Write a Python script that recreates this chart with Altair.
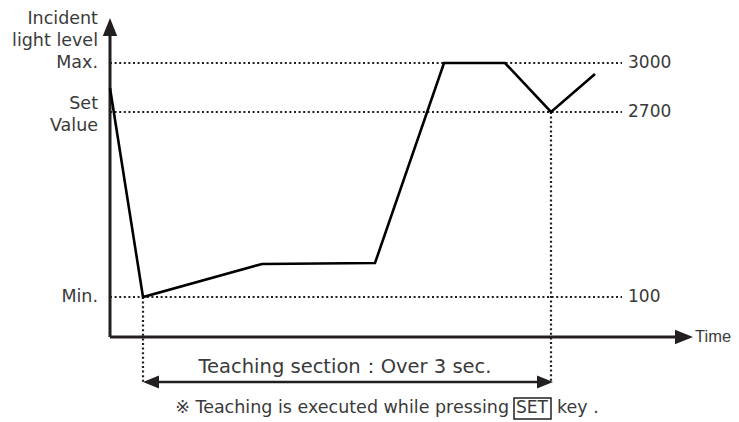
import altair as alt
import pandas as pd

# Schematic units: time = px right of the y-axis, level = px above the x-axis
line_time = [0, 33, 152, 265, 334, 395, 441, 485]
line_level = [249, 40, 73, 74, 274, 274, 225, 263]

ref_names = ["Max.", "Set Value", "Min."]
ref_levels = [274, 225, 40]
ref_values = ["3000", "2700", "100"]
ref_end = 512

vline_time = [33, 441]
vline_top = [40, 225]
vline_bottom = -46

left_labels = ["Incident", "light level", "Max.", "Set", "Value", "Min."]
left_label_levels = [318, 296, 274, 233, 211, 40]

FONT = "DejaVu Sans"
TXT = "#3a3a3a"
INK = "#231f20"

W, H = 723, 414
xs = alt.Scale(domain=[-102, W - 102], nice=False, zero=False)
ys = alt.Scale(domain=[329 - H, 329], nice=False, zero=False)

def X(f="x"):
    return alt.X(f"{f}:Q", scale=xs, axis=None)

def Y(f="y"):
    return alt.Y(f"{f}:Q", scale=ys, axis=None)

# axes
axes_df = pd.DataFrame({"x": [0, 0], "y": [0, 0], "x2": [0, 567], "y2": [301, 0]})
axes = alt.Chart(axes_df).mark_rule(color=INK, strokeWidth=3).encode(
    x=X(), y=Y(), x2="x2:Q", y2="y2:Q")

# arrow heads
arrow_path = "M0,-1L0.8,1L-0.8,1Z"
heads_df = pd.DataFrame({
    "x": [0, 574, 41, 435],
    "y": [310, 0, -45, -45],
    "ang": [0, 90, 270, 90],
    "sz": [324, 324, 256, 256],
})
heads = alt.Chart(heads_df).mark_point(shape=arrow_path, filled=True, color=INK, opacity=1, strokeWidth=0).encode(
    x=X(), y=Y(), angle=alt.Angle("ang:Q", scale=None), size=alt.Size("sz:Q", scale=None))

# double arrow shaft
shaft_df = pd.DataFrame({"x": [45], "x2": [430], "y": [-45]})
shaft = alt.Chart(shaft_df).mark_rule(color=INK, strokeWidth=2.5).encode(x=X(), x2="x2:Q", y=Y())

# reference dotted lines
ref_df = pd.DataFrame({"name": ref_names, "y": ref_levels, "x": [0] * 3, "x2": [ref_end] * 3, "val": ref_values})
refs = alt.Chart(ref_df).mark_rule(color=INK, strokeWidth=2.2, strokeDash=[2, 2.6]).encode(
    x=X(), x2="x2:Q", y=Y())
vdf = pd.DataFrame({"x": vline_time, "y": vline_top, "y2": [vline_bottom] * 2})
vrefs = alt.Chart(vdf).mark_rule(color=INK, strokeWidth=2.2, strokeDash=[2, 2.6]).encode(
    x=X(), y=Y(), y2="y2:Q")

# main line
ldf = pd.DataFrame({"x": line_time, "y": line_level, "o": range(len(line_time))})
line = alt.Chart(ldf).mark_line(color="black", strokeWidth=2.6, strokeJoin="miter").encode(
    x=X(), y=Y(), order="o:Q")

# text labels
ltxt_df = pd.DataFrame({"t": left_labels, "y": left_label_levels, "x": [-12] * 6})
ltxt = alt.Chart(ltxt_df).mark_text(align="right", baseline="middle", font=FONT, fontSize=17.5, color=TXT).encode(
    x=X(), y=Y(), text="t:N")
rtxt_df = pd.DataFrame({"t": ref_values, "y": ref_levels, "x": [518] * 3})
rtxt = alt.Chart(rtxt_df).mark_text(align="left", baseline="middle", font=FONT, fontSize=17, color=TXT).encode(
    x=X(), y=Y(), text="t:N")
time_df = pd.DataFrame({"t": ["Time"], "x": [585], "y": [0]})
ttxt = alt.Chart(time_df).mark_text(align="left", baseline="middle", font="Liberation Sans", fontSize=16.5, color=TXT).encode(
    x=X(), y=Y(), text="t:N")
sec_df = pd.DataFrame({"t": ["Teaching section\uff1aOver 3 sec."], "x": [235], "y": [-30]})
stxt = alt.Chart(sec_df).mark_text(align="center", baseline="middle", font=FONT, fontSize=19.5, color=TXT).encode(
    x=X(), y=Y(), text="t:N")

# footnote
foot_left = pd.DataFrame({"t": ["\u203b Teaching is executed while pressing"], "x": [399], "y": [-71]})
foot_mid = pd.DataFrame({"t": ["SET"], "x": [422], "y": [-71]})
foot_right = pd.DataFrame({"t": ["key ."], "x": [447], "y": [-71]})
ftxt1 = alt.Chart(foot_left).mark_text(align="right", baseline="middle", font=FONT, fontSize=17.5, color=TXT).encode(
    x=X(), y=Y(), text="t:N")
ftxt2 = alt.Chart(foot_mid).mark_text(align="center", baseline="middle", font=FONT, fontSize=17, color=TXT).encode(
    x=X(), y=Y(), text="t:N")
ftxt3 = alt.Chart(foot_right).mark_text(align="left", baseline="middle", font=FONT, fontSize=17.5, color=TXT).encode(
    x=X(), y=Y(), text="t:N")
box_df = pd.DataFrame({"x": [404], "x2": [441], "y": [-61], "y2": [-82]})
box = alt.Chart(box_df).mark_rect(fill="transparent", stroke=INK, strokeWidth=1.5).encode(
    x=X(), x2="x2:Q", y=Y(), y2="y2:Q")

chart = alt.layer(refs, vrefs, axes, shaft, heads, line, ltxt, rtxt, ttxt, stxt, box, ftxt1, ftxt2, ftxt3).properties(
    width=W, height=H, padding=0, autosize=alt.AutoSizeParams(type="none")
).configure_view(strokeWidth=0)

chart.save("out.html", embed_options={"renderer": "svg", "actions": False})
